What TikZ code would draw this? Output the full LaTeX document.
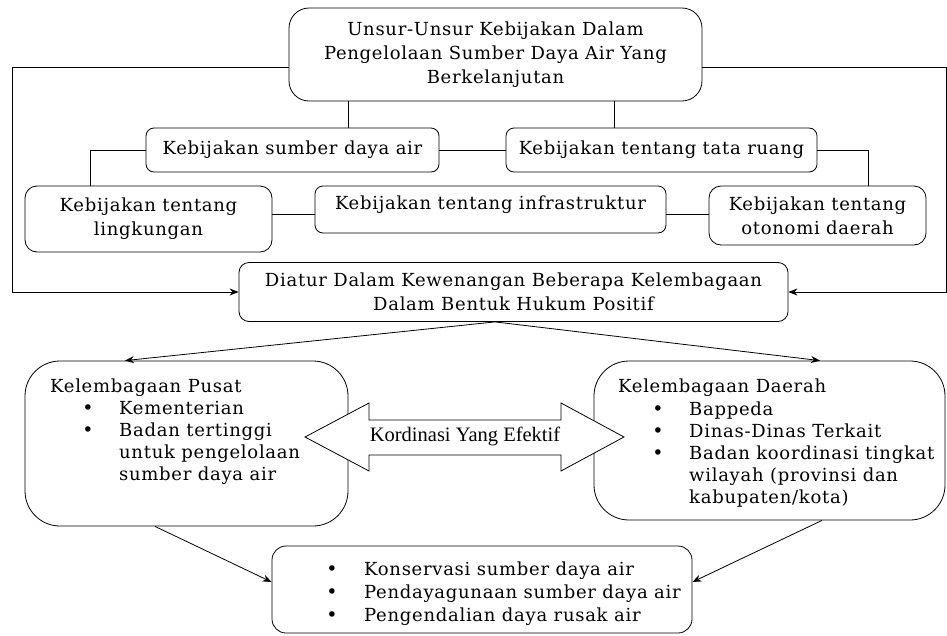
\documentclass[tikz,border=0pt]{standalone}
\usepackage{fontspec}
\setmainfont[LetterSpace=4]{DejaVu Serif}
\newfontfamily\timesfont{Liberation Serif}
\usetikzlibrary{arrows.meta,calc}

\begin{document}
\begin{tikzpicture}[x=1pt,y=-1pt,
  box/.style={draw, line width=0.8pt, rounded corners=8pt, inner sep=0pt, align=center,
    font=\fontsize{18}{24}\selectfont},
  txt/.style={inner sep=0pt, anchor=base west, font=\fontsize{18}{22}\selectfont},
  dot/.style={inner sep=0pt, anchor=base, font=\fontsize{19}{22}\selectfont},
  conn/.style={draw, line width=0.8pt},
  arr/.style={conn, -{Stealth[length=9pt, width=7pt]}}]
\useasboundingbox (0,0) rectangle (947,635);

% policy boxes
\node[box, rounded corners=20pt, minimum width=413pt, minimum height=93pt] (top) at (495.5,54.5)
  {Unsur-Unsur Kebijakan Dalam\\Pengelolaan Sumber Daya Air Yang\\Berkelanjutan};
\node[box, minimum width=293pt, minimum height=44pt] (sda) at (292.5,150) {Kebijakan sumber daya air};
\node[box, minimum width=311pt, minimum height=44pt] (tr) at (661.5,150) {Kebijakan tentang tata ruang};
\node[box, rounded corners=12pt, minimum width=247pt, minimum height=66pt] (lk) at (148.5,219)
  {Kebijakan tentang\\lingkungan};
\node[box, minimum width=351pt, minimum height=47pt] (inf) at (490.5,209.5) {};
\node[inner sep=0pt, anchor=base, font=\fontsize{18}{22}\selectfont] (infT) at (490.5,209) {Kebijakan tentang infrastruktur};
\node[box, rounded corners=12pt, minimum width=217pt, minimum height=59pt] (ot) at (817.5,215.5)
  {Kebijakan tentang\\otonomi daerah};
\node[box, rounded corners=10pt, minimum width=549pt, minimum height=59pt] (dt) at (513.5,292)
  {Diatur Dalam Kewenangan Beberapa Kelembagaan\\Dalam Bentuk Hukum Positif};

% institution boxes
\node[box, rounded corners=35pt, minimum width=323pt, minimum height=165pt] (pusat) at (186.5,443.5) {};
\node[box, rounded corners=35pt, minimum width=351pt, minimum height=159pt] (daerah) at (769.5,440.5) {};
\node[box, rounded corners=14pt, minimum width=420pt, minimum height=87pt] (hasil) at (482,589.5) {};

\node[txt] (p0) at (50,392) {Kelembagaan Pusat};
\node[dot] (pb1) at (88,414) {•};
\node[txt] (p1) at (119,414) {Kementerian};
\node[dot] (pb2) at (88,436) {•};
\node[txt] (p2) at (119,436) {Badan tertinggi};
\node[txt] (p3) at (119,458) {untuk pengelolaan};
\node[txt] (p4) at (119,480) {sumber daya air};

\node[txt] (d0) at (618,392) {Kelembagaan Daerah};
\node[dot] (db1) at (658,415) {•};
\node[txt] (d1) at (689,415) {Bappeda};
\node[dot] (db2) at (658,437) {•};
\node[txt] (d2) at (689,437) {Dinas-Dinas Terkait};
\node[dot] (db3) at (658,459) {•};
\node[txt] (d3) at (689,459) {Badan koordinasi tingkat};
\node[txt] (d4) at (689,481) {wilayah (provinsi dan};
\node[txt] (d5) at (689,503) {kabupaten/kota)};

\node[dot] (hb1) at (332,575) {•};
\node[txt] (h1) at (364,575) {Konservasi sumber daya air};
\node[dot] (hb2) at (332,598) {•};
\node[txt] (h2) at (364,598) {Pendayagunaan sumber daya air};
\node[dot] (hb3) at (332,621) {•};
\node[txt] (h3) at (364,621) {Pengendalian daya rusak air};

% coordination double arrow
\draw[line width=0.8pt, fill=white] (305,437) -- (369,403) -- (369,420) -- (561,420) -- (561,403)
  -- (624,437) -- (561,471) -- (561,455) -- (369,455) -- (369,471) -- cycle;
\node[inner sep=0pt, anchor=base, font=\timesfont\fontsize{20.5}{24}\selectfont] (koord) at (465,441)
  {Kordinasi Yang Efektif};

% connectors
\coordinate (L) at (12,67);
\coordinate (R) at (946,67);
\draw[arr] (top.west |- L) -- (L) |- (dt.west);
\draw[arr] (top.east |- R) -- (R) |- (dt.east);

\coordinate (a1) at (348,0);
\coordinate (a2) at (614,0);
\draw[conn] (top.south -| a1) -- (sda.north -| a1);
\draw[conn] (top.south -| a2) -- (tr.north -| a2);
\draw[conn] (sda) -- (tr);

\coordinate (a3) at (90,0);
\coordinate (a4) at (868,0);
\draw[conn] (sda.west) -| (lk.north -| a3);
\draw[conn] (tr.east) -| (ot.north -| a4);

\coordinate (yB) at (0,214);
\draw[conn] (lk.east |- yB) -- (inf.west |- yB);
\draw[conn] (inf.east |- yB) -- (ot.west |- yB);

\coordinate (a5) at (495,0);
\coordinate (a6) at (125,0);
\coordinate (a7) at (820,0);
\draw[arr] (dt.south -| a5) -- (pusat.north -| a6);
\draw[arr] (dt.south -| a5) -- (daerah.north -| a7);

\coordinate (a8) at (155,0);
\coordinate (a9) at (822,0);
\coordinate (yC) at (0,582);
\draw[arr] (pusat.south -| a8) -- (hasil.west |- yC);
\draw[arr] (daerah.south -| a9) -- (hasil.east |- yC);
\end{tikzpicture}
\end{document}
